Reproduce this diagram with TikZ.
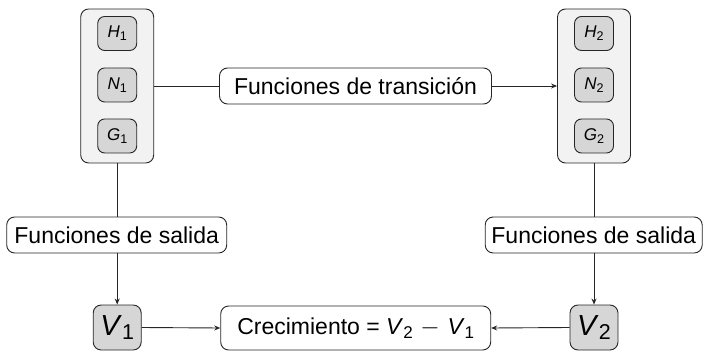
\documentclass[tikz,border=0pt]{standalone}
\usepackage{fontspec}
\setmainfont{Liberation Sans}
\usetikzlibrary{arrows.meta}
\newcommand\myvar[2]{\textit{#1}\raisebox{-0.3ex}{\scalebox{0.74}{#2}}}
\begin{document}
\begin{tikzpicture}[x=1pt,y=-1pt,
  container/.style={draw=black!85, fill=black!5, rounded corners=8pt, minimum width=73pt, minimum height=154pt, line width=0.9pt, inner sep=0pt},
  innerbox/.style={draw=black!85, fill=black!16, rounded corners=7pt, minimum width=39pt, minimum height=34pt, line width=0.9pt, font=\fontsize{17}{19}\selectfont, inner sep=0pt},
  textbox/.style={draw=black!85, fill=white, rounded corners=8pt, minimum height=36pt, line width=0.9pt, font=\fontsize{23}{26}\selectfont, inner sep=0pt},
  vbox/.style={draw=black!85, fill=black!16, rounded corners=8pt, minimum width=48pt, minimum height=45pt, line width=0.9pt, font=\fontsize{29}{31}\selectfont, inner sep=0pt},
  conn/.style={line width=0.9pt, draw=black!85},
  arr/.style={conn, -{Stealth[length=6pt,width=5pt]}}]
\useasboundingbox (0,0) rectangle (703,352);
% containers
\node[container] (c1) at (117.2,86) {};
\node[container] (c2) at (594,86) {};
\node[innerbox] (h1) at (117.2,33.5) {\myvar{H}{1}};
\node[innerbox] (n1) at (117.2,85) {\myvar{N}{1}};
\node[innerbox] (g1) at (117.2,136) {\myvar{G}{1}};
\node[innerbox] (h2) at (594,33.5) {\myvar{H}{2}};
\node[innerbox] (n2) at (594,85) {\myvar{N}{2}};
\node[innerbox] (g2) at (594,136) {\myvar{G}{2}};
% text boxes
\node[textbox, minimum width=272pt] (tr) at (355.5,86) {Funciones de transición};
\node[textbox, minimum width=220pt] (s1) at (116.7,235) {Funciones de salida};
\node[textbox, minimum width=217pt] (s2) at (593.7,235) {Funciones de salida};
\node[textbox, minimum width=270pt, minimum height=44pt] (cr) at (355.7,328) {Crecimiento = \myvar{V}{2}\,\,$-$\,\,\myvar{V}{1}};
\node[vbox] (v1) at (117.2,327.5) {\myvar{V}{1}};
\node[vbox] (v2) at (594,327.5) {\myvar{V}{2}};
% connectors
\draw[conn] (c1.east) -- (tr.west);
\draw[arr] (tr.east) -- (c2.west);
\draw[conn] (c1.south) -- (s1.north -| c1.south);
\draw[conn] (c2.south) -- (s2.north -| c2.south);
\draw[arr] (s1.south -| v1.north) -- (v1.north);
\draw[arr] (s2.south -| v2.north) -- (v2.north);
\draw[arr] (v1.east) -- (cr.west);
\draw[arr] (v2.west) -- (cr.east);
\end{tikzpicture}
\end{document}
